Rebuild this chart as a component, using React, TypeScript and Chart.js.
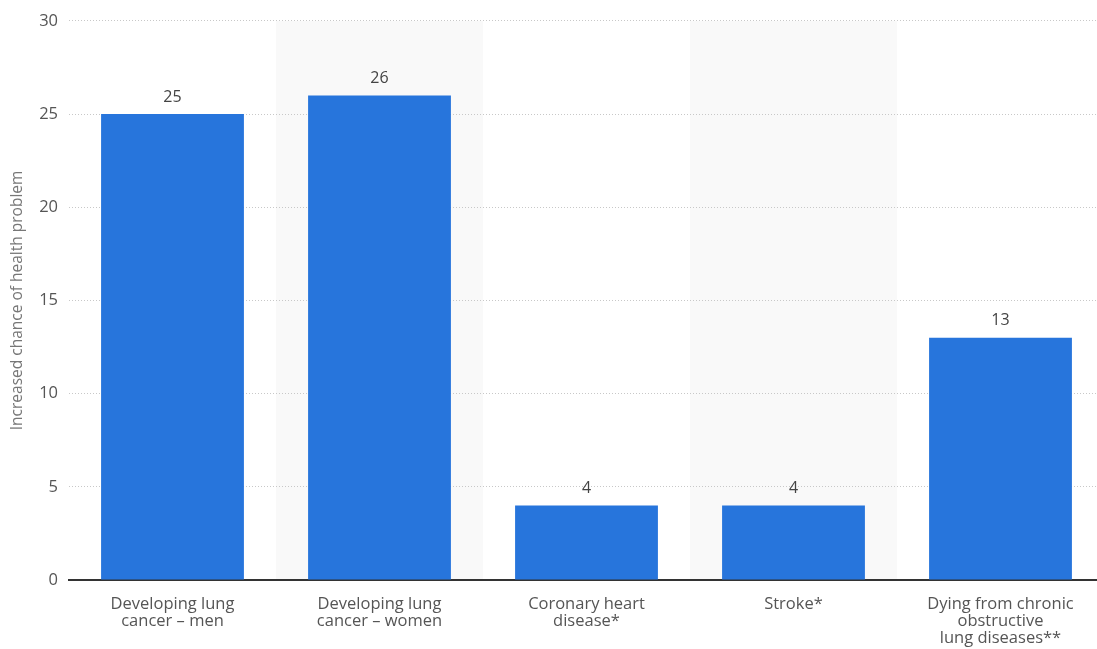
import React, { useEffect, useRef } from "react";
import { Chart, registerables } from "chart.js";

Chart.register(...registerables);

const categories: string[][] = [
  ["Developing lung", "cancer – men"],
  ["Developing lung", "cancer – women"],
  ["Coronary heart", "disease*"],
  ["Stroke*"],
  ["Dying from chronic", "obstructive", "lung diseases**"],
];
const values: number[] = [25, 26, 4, 4, 13];
const yTicks: number[] = [0, 5, 10, 15, 20, 25, 30];
const yTitle = "Increased chance of health problem";

const FONT = "'Open Sans', sans-serif";

const bandPlugin = {
  id: "bands",
  beforeDraw(chart: any) {
    const { ctx, chartArea, scales } = chart;
    const x = scales.x;
    const n = categories.length;
    const w = (chartArea.right - chartArea.left) / n;
    ctx.save();
    ctx.fillStyle = "#f9f9f9";
    for (let i = 1; i < n; i += 2) {
      const c = x.getPixelForValue(i);
      ctx.fillRect(c - w / 2, chartArea.top, w, chartArea.bottom - chartArea.top);
    }
    ctx.restore();
  },
};

const labelPlugin = {
  id: "valueLabels",
  afterDatasetsDraw(chart: any) {
    const { ctx } = chart;
    const meta = chart.getDatasetMeta(0);
    ctx.save();
    ctx.font = `16px ${FONT}`;
    ctx.fillStyle = "#444";
    ctx.textAlign = "center";
    ctx.textBaseline = "middle";
    meta.data.forEach((bar: any, i: number) => {
      ctx.fillText(String(values[i]), bar.x, bar.y - 17);
    });
    ctx.restore();
  },
};

export default function App() {
  const ref = useRef<HTMLCanvasElement>(null);
  useEffect(() => {
    if (!ref.current) return;
    const chart = new Chart(ref.current, {
      type: "bar",
      data: {
        labels: categories as any,
        datasets: [
          {
            data: values,
            backgroundColor: "#2775dc",
            borderWidth: 0,
            categoryPercentage: 1,
            barPercentage: 0.69,
          },
        ],
      },
      options: {
        animation: false,
        responsive: false,
        maintainAspectRatio: false,
        layout: { padding: { top: 20, left: 0, right: 0, bottom: 0 } },
        plugins: {
          legend: { display: false },
          tooltip: { enabled: false },
        },
        scales: {
          x: {
            grid: { display: false, drawTicks: false },
            border: { display: true, color: "#333", width: 2 },
            ticks: {
              color: "#555",
              font: { family: FONT, size: 16.5, lineHeight: 1.02 },
              padding: 16,
              maxRotation: 0,
              autoSkip: false,
            },
            afterFit(scale: any) {
              scale.height = 69;
            },
          },
          y: {
            min: 0,
            max: 30,
            afterBuildTicks(scale: any) {
              scale.ticks = yTicks.map((v) => ({ value: v }));
            },
            grid: {
              color: "#c8c8c8",
              drawTicks: false,
              lineWidth: 1,
            },
            border: { display: false, dash: [1, 2] },
            ticks: {
              color: "#555",
              font: { family: FONT, size: 16.5 },
              padding: 11,
            },
            title: {
              display: true,
              text: yTitle,
              color: "#777",
              font: { family: FONT, size: 15.5 },
              padding: { top: 8, bottom: 0 },
            },
            afterFit(scale: any) {
              scale.width = 69;
            },
          },
        },
      },
      plugins: [bandPlugin, labelPlugin],
    });
    return () => chart.destroy();
  }, []);
  return (
    <div style={{ position: "fixed", left: 0, top: 0, width: 1097, height: 649, overflow: "hidden", background: "#fff" }}>
      <canvas ref={ref} width={1104} height={649} style={{ display: "block" }} />
    </div>
  );
}
